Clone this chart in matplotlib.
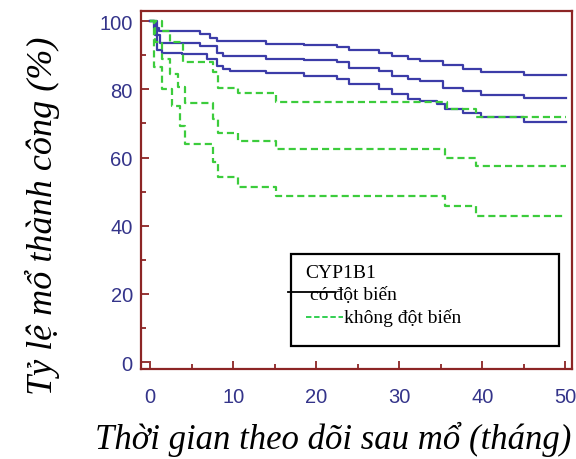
import matplotlib
matplotlib.use("Agg")
import matplotlib.pyplot as plt
from matplotlib.ticker import MultipleLocator
from matplotlib.lines import Line2D
from matplotlib.patches import Rectangle

# step times (months) and survival (%)
t_b1 = [0, 0.5, 1.0, 6.0, 7.2, 8.0, 14, 18.5, 22.5, 23.9, 27.5, 29.1, 31, 32.5, 35.3, 37.7, 39.8, 45, 50.1]
s_b1 = [100, 98, 97.2, 96.1, 95, 94.2, 93.4, 93, 92.5, 91.4, 90.8, 89.8, 88.9, 88.2, 87, 85.9, 85.2, 84.2, 84.2]

t_b2 = [0, 0.6, 1.2, 6.0, 8.0, 8.8, 14, 18.5, 22.5, 23.9, 27.5, 29.1, 31, 32.5, 35.3, 37.7, 39.8, 45, 50.1]
s_b2 = [100, 96, 93.7, 92.8, 90.8, 89.8, 89, 88.6, 87.9, 86.4, 85.5, 84, 83, 82.5, 80.5, 79.6, 78.3, 77.4, 77.4]

t_b3 = [0, 0.8, 1.4, 3.8, 6.8, 8.0, 8.8, 9.6, 14, 18.5, 22.5, 23.9, 27.5, 29.1, 31, 32.5, 34.5, 35.5, 37.7, 39.8, 45, 50.1]
s_b3 = [100, 91.5, 90.8, 90.3, 88.9, 86.9, 86.1, 85.5, 84.8, 83.8, 82.9, 81.5, 80.1, 78.6, 77.1, 76.6, 75.7, 74.2, 73.2, 71.8, 70.5, 70.5]

t_g1 = [0, 1.4, 2.4, 4.0, 7.6, 8.2, 10.6, 15.2, 35.8, 39.2, 50.1]
s_g1 = [100, 97, 94, 88, 85, 80.5, 79, 76.3, 74.2, 71.8, 71.8]

t_g2 = [0, 0.6, 1.4, 2.4, 3.4, 4.2, 7.6, 8.2, 10.6, 15.2, 35.5, 39.2, 50.1]
s_g2 = [100, 94, 89, 84.5, 80.6, 76, 71.3, 67.3, 64.9, 62.5, 60, 57.6, 57.6]

t_g3 = [0, 0.4, 1.4, 2.6, 3.6, 4.2, 7.6, 8.2, 10.6, 15.2, 35.5, 39.2, 50.1]
s_g3 = [100, 86.5, 80, 75, 69.3, 64, 58.6, 54.2, 51.3, 48.8, 45.8, 42.9, 42.9]

blue = "#3c3ca8"
green = "#3ccc3c"
spine_c = "#8c2525"
tick_c = "#34348a"
serif = ["Liberation Serif", "DejaVu Serif"]

fig = plt.figure(figsize=(5.76, 4.6), dpi=100)
ax = fig.add_axes([0.245, 0.196, 0.748, 0.778])

for t, s in [(t_b1, s_b1), (t_b2, s_b2), (t_b3, s_b3)]:
    ax.step(t, s, where="post", color=blue, lw=1.6)
for t, s in [(t_g1, s_g1), (t_g2, s_g2), (t_g3, s_g3)]:
    ax.step(t, s, where="post", color=green, lw=1.6, dashes=(3.2, 1.8))

ax.set_xlim(-1.1, 50.8)
ax.set_ylim(-2, 103)
ax.xaxis.set_major_locator(MultipleLocator(10))
ax.xaxis.set_minor_locator(MultipleLocator(5))
ax.yaxis.set_major_locator(MultipleLocator(20))
ax.yaxis.set_minor_locator(MultipleLocator(10))

for sp in ax.spines.values():
    sp.set_color(spine_c)
    sp.set_linewidth(1.6)
ax.tick_params(which="both", direction="in", color=spine_c, width=1.3,
               labelcolor=tick_c, labelsize=14.5)
ax.tick_params(which="major", length=6)
ax.tick_params(which="minor", length=3.5)
ax.tick_params(axis="x", which="major", pad=13)
ax.tick_params(axis="y", which="major", pad=6)
for lab in ax.get_xticklabels() + ax.get_yticklabels():
    lab.set_family("Liberation Sans")

fig.text(0.578, 0.045, "Thời gian theo dõi sau mổ (tháng)", family=serif,
         style="italic", fontsize=25, ha="center", va="center")
fig.text(0.073, 0.53, "Tỷ lệ mổ thành công (%)", family=serif,
         style="italic", fontsize=26, ha="center", va="center", rotation=90)

# legend box drawn by hand (figure pixels -> fractions)
W, H = 576, 460
fig.patches.append(Rectangle((291 / W, 1 - 347 / H), (559 - 291) / W, (347 - 255) / H,
                             transform=fig.transFigure, fill=False, ec="black", lw=1.6))
fig.text(305 / W, 1 - 278 / H, "CYP1B1", family=serif, fontsize=14, va="baseline")
fig.text(310 / W, 1 - 300 / H, "có đột biến", family=serif, fontsize=14, va="baseline")
fig.lines.append(Line2D([288 / W, 335 / W], [1 - 293 / H, 1 - 293 / H],
                        transform=fig.transFigure, color="black", lw=1.3))
fig.lines.append(Line2D([306 / W, 343 / W], [1 - 318 / H, 1 - 318 / H],
                        transform=fig.transFigure, color="#22cc44", lw=1.3, dashes=(3, 1.5)))
fig.text(344 / W, 1 - 323 / H, "không đột biến", family=serif, fontsize=14, va="baseline")

fig.savefig("out.png", dpi=100)
